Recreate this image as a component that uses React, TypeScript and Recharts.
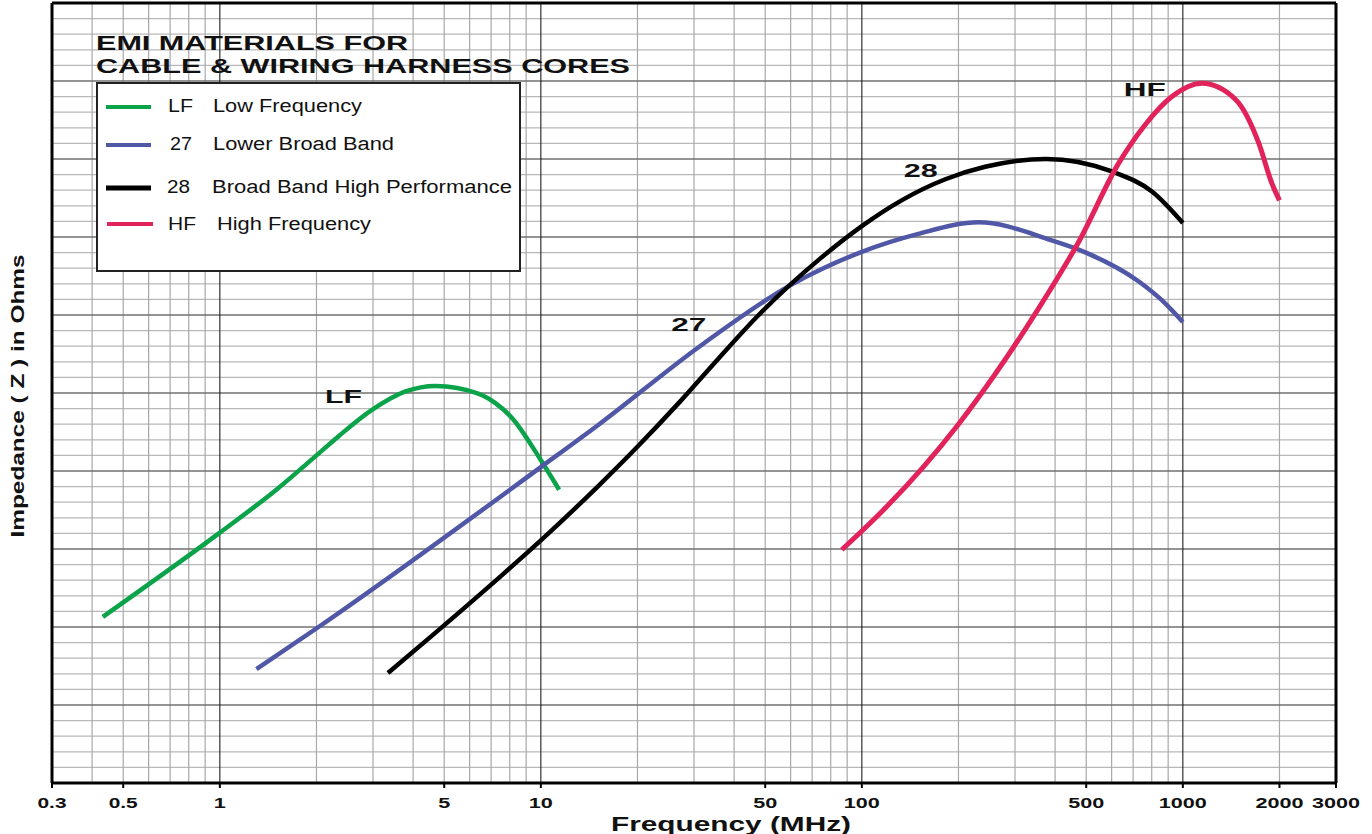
import { LineChart, Line, XAxis, YAxis, CartesianGrid, ReferenceDot, ReferenceLine, Legend } from 'recharts'

// frequency axis (MHz), log scale
const xTicks = [0.3, 0.5, 1, 5, 10, 50, 100, 500, 1000, 2000, 3000]
const xMinor = [0.4, 0.5, 0.6, 0.7, 0.8, 0.9, 2, 3, 4, 5, 6, 7, 8, 9, 20, 30, 40, 50, 60, 70, 80, 90, 200, 300, 400, 500, 600, 700, 800, 900, 2000]
const xMajor = [1, 10, 100, 1000]

// impedance axis has no numbers, only grid divisions
const yMajor = [1, 2, 3, 4, 5, 6, 7, 8, 9]
const yMinor = Array.from({ length: 50 }, (_, i) => Number((i * 0.2).toFixed(1))).filter(v => v % 1 !== 0)

// series (freq MHz, grid units)
const lfFreq = [0.432, 1, 1.5, 2.0, 2.35, 2.97, 3.79, 4.7, 6.41, 7.22, 8.13, 9.86, 11.4]
const lfZ = [2.13, 3.21, 3.76, 4.2, 4.45, 4.78, 5.02, 5.09, 4.99, 4.87, 4.68, 4.18, 3.76]

const f27 = [1.3, 2.03, 10, 15.2, 31.3, 59.2, 100, 150, 231, 388, 499, 729, 860, 1000]
const z27 = [1.46, 2.0, 4.05, 4.6, 5.6, 6.37, 6.81, 7.04, 7.19, 6.96, 6.8, 6.43, 6.19, 5.91]

const f28 = [3.34, 4.8, 7.4, 10, 15.2, 20.2, 27, 35.9, 47.7, 73.5, 100, 133, 182, 242, 374, 601, 803, 1000]
const z28 = [1.41, 1.96, 2.63, 3.11, 3.82, 4.33, 4.88, 5.45, 6.0, 6.71, 7.14, 7.47, 7.74, 7.9, 8.0, 7.84, 7.58, 7.18]

const hfFreq = [86.6, 120, 156, 200, 260, 351, 474, 632, 760, 925, 1146, 1462, 1725, 1893, 2000]
const hfZ = [2.99, 3.55, 4.06, 4.6, 5.24, 6.05, 6.94, 7.95, 8.43, 8.8, 8.97, 8.76, 8.2, 7.69, 7.47]

const codes = ['LF', '27', '28', 'HF']
const names = ['Low Frequency', 'Lower Broad Band', 'Broad Band High Performance', 'High Frequency']
const colors = ['#0aa34a', '#4f57a6', '#000000', '#e2225a']

// where the curve names sit (freq, grid units)
const tagFreq = [2.43, 28.9, 152.7, 761]
const tagZ = [4.96, 5.88, 7.85, 8.89]

const toPoints = (f: number[], z: number[]) => f.map((x, i) => ({ f: x, z: z[i] }))
const series = [toPoints(lfFreq, lfZ), toPoints(f27, z27), toPoints(f28, z28), toPoints(hfFreq, hfZ)]

const FONT = '"Liberation Sans", Arial, sans-serif'

const tickWidth = (s: string) => s.replace('.', '').length * 12 + (s.includes('.') ? 5 : 0)

function XTick({ x, y, payload }: any) {
  const s = String(payload.value)
  return (
    <text x={x} y={y + 18} textAnchor="middle" fontFamily={FONT} fontWeight="bold" fontSize={15}
      textLength={tickWidth(s)} lengthAdjust="spacingAndGlyphs" fill="#111">{s}</text>
  )
}

// horizontal grid positions through the y axis scale
const yLines = (vals: number[]) => ({ yAxis, offset }: any) => {
  const s = yAxis?.scale
  return vals.map(v => (typeof s === 'function' ? s(v) : offset.top + offset.height * (1 - v / 10)))
}

const tagWidth = [37, 35, 34, 42]

function LegendBox({ payload }: any) {
  const rowLine = [79, 117, 160, 196]
  const rowBase = [84, 122, 165, 202]
  const codeX = [72, 74, 71, 72]
  const nameX = [117, 117, 116, 121]
  const codeW = [25, 22, 23, 28]
  const nameW = [149, 181, 300, 154]
  return (
    <svg width={540} height={246} style={{ display: 'block', overflow: 'visible' }}>
      <text x={0} y={22} fontFamily={FONT} fontWeight="bold" fontSize={21} textLength={312} lengthAdjust="spacingAndGlyphs" fill="#111">EMI MATERIALS FOR</text>
      <text x={0} y={45} fontFamily={FONT} fontWeight="bold" fontSize={21} textLength={534} lengthAdjust="spacingAndGlyphs" fill="#111">CABLE &amp; WIRING HARNESS CORES</text>
      <rect x={1} y={55} width={423} height={188} fill="#fff" stroke="#222" strokeWidth={2} />
      {codes.map((c, i) => {
        const entry = (payload || []).find((p: any) => p.value === c)
        const col = entry?.color ?? colors[i]
        return (
          <g key={c}>
            <line x1={i === 3 ? 11 : 10} x2={i === 3 ? 57 : 55} y1={rowLine[i]} y2={rowLine[i]} stroke={col} strokeWidth={i === 2 ? 5 : 4} />
            <text x={codeX[i]} y={rowBase[i]} fontFamily={FONT} fontSize={18} fill="#111" textLength={codeW[i]} lengthAdjust="spacingAndGlyphs">{c}</text>
            <text x={nameX[i]} y={rowBase[i]} fontFamily={FONT} fontSize={18} fill="#111" textLength={nameW[i]} lengthAdjust="spacingAndGlyphs">{names[i]}</text>
          </g>
        )
      })}
    </svg>
  )
}

export default function App() {
  return (
    <div style={{ position: 'absolute', left: 0, top: 0, width: 1372, height: 834, background: '#fff' }}>
      <LineChart width={1372} height={834} margin={{ top: 3, right: 36, bottom: 0, left: 42 }}>
        <CartesianGrid vertical={false} horizontalCoordinatesGenerator={yLines(yMinor)} stroke="#b8b8b8" strokeWidth={1.3} />
        <CartesianGrid horizontal={false} verticalValues={xMinor} stroke="#a8a8a8" strokeWidth={1.2} />
        <CartesianGrid vertical={false} horizontalCoordinatesGenerator={yLines(yMajor)} stroke="#707070" strokeWidth={1.6} />
        <CartesianGrid horizontal={false} verticalValues={xMajor} stroke="#1e1e1e" strokeWidth={1.1} />
        <ReferenceLine y={10} stroke="#000" strokeWidth={3} />
        <ReferenceLine x={3000} stroke="#000" strokeWidth={3} />
        <XAxis dataKey="f" type="number" scale="log" domain={[0.3, 3000]} allowDataOverflow ticks={xTicks} interval={0}
          height={51} axisLine={{ stroke: '#000', strokeWidth: 3 }} tickLine={{ stroke: '#000', strokeWidth: 2 }} tickSize={5}
          tick={<XTick />}
          label={{
            content: ({ viewBox }: any) => (
              <text x={viewBox.x + viewBox.width / 2 + 37} y={viewBox.y + 48} textAnchor="middle" fontFamily={FONT}
                fontWeight="bold" fontSize={21} textLength={240} lengthAdjust="spacingAndGlyphs" fill="#111">Frequency (MHz)</text>
            ),
          }}
        />
        <YAxis type="number" domain={[0, 10]} allowDataOverflow width={10} interval={0} tick={false} tickLine={false}
          axisLine={{ stroke: '#000', strokeWidth: 3 }}
          label={{
            content: ({ viewBox }: any) => (
              <text transform={`translate(24, ${viewBox.y + viewBox.height / 2 + 3}) rotate(-90)`} textAnchor="middle"
                fontFamily={FONT} fontWeight="bold" fontSize={19} textLength={283} lengthAdjust="spacingAndGlyphs" fill="#111">
                Impedance ( Z ) in Ohms
              </text>
            ),
          }}
        />
        {series.map((d, i) => (
          <Line key={codes[i]} data={d} dataKey="z" name={codes[i]} type="monotone" stroke={colors[i]}
            strokeWidth={i === 3 ? 5 : 4.5} dot={false} activeDot={false} isAnimationActive={false} />
        ))}
        {codes.map((c, i) => (
          <ReferenceDot key={'tag' + c} x={tagFreq[i]} y={tagZ[i]} r={1} fill="none" stroke="none"
            label={{
              content: ({ viewBox }: any) => (
                <text x={viewBox.x + viewBox.width / 2} y={viewBox.y + viewBox.height / 2 + 6.5} textAnchor="middle"
                  fontFamily={FONT} fontWeight="bold" fontSize={18} textLength={tagWidth[i]} lengthAdjust="spacingAndGlyphs" fill="#111">{c}</text>
              ),
            }}
          />
        ))}
        <Legend layout="horizontal" verticalAlign="middle" align="center" content={<LegendBox />}
          wrapperStyle={{ position: 'absolute', left: 96, top: 28, width: 540, height: 246 }} />
      </LineChart>
    </div>
  )
}
